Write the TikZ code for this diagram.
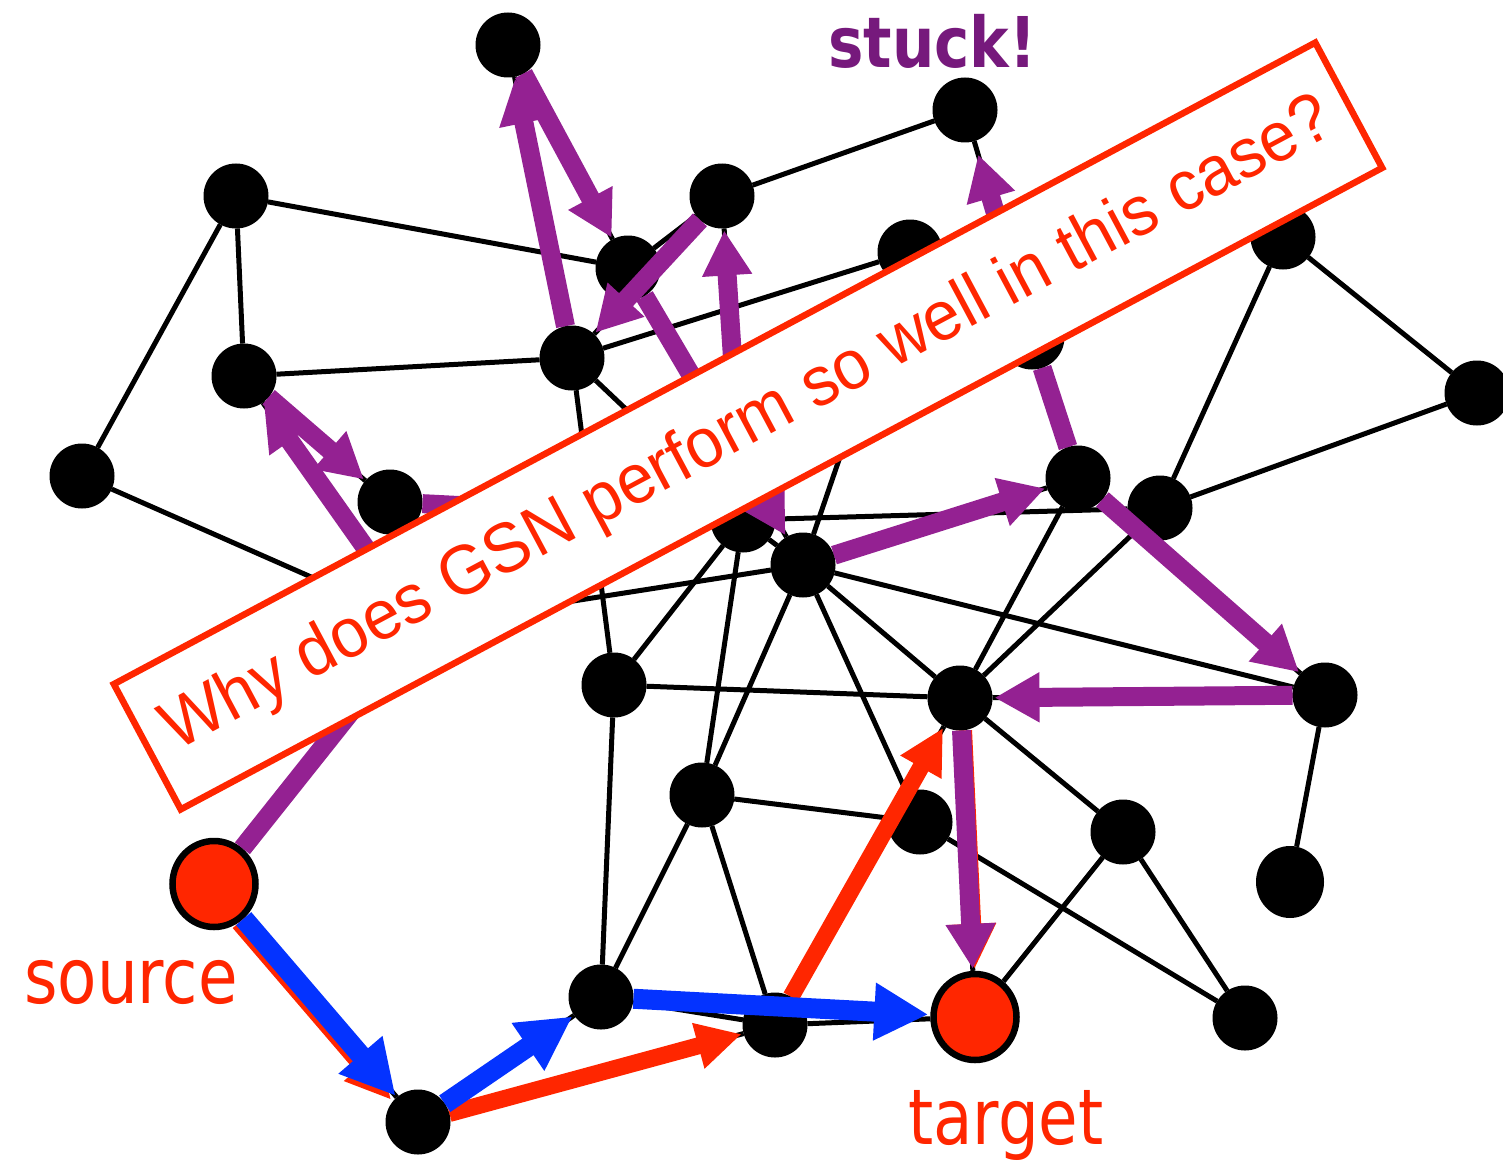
\documentclass[tikz,border=0pt]{standalone}
\usepackage{fontspec}
\setmainfont{Liberation Sans}
\newfontfamily\dvs{DejaVu Sans}
\usetikzlibrary{shapes.geometric,arrows.meta}
\definecolor{gsnred}{HTML}{FF2600}
\definecolor{gsnblue}{HTML}{0433FF}
\definecolor{gsnpurple}{HTML}{942192}
\definecolor{stuckpurple}{HTML}{76197C}
\pgfdeclarelayer{bg}
\pgfsetlayers{bg,main}
\begin{document}
\begin{tikzpicture}[x=1pt,y=-1pt,
  bn/.style={ellipse,fill=black,minimum width=65pt,minimum height=65pt,inner sep=0pt,outer sep=0pt},
  rn/.style={ellipse,fill=gsnred,draw=black,line width=6.5pt,minimum width=83pt,minimum height=86pt,inner sep=0pt},
  edge/.style={line width=5pt,black},
  pline/.style={line width=19pt,gsnpurple},
  parr/.style={pline,-{Triangle[length=45pt,width=47pt]},shorten >=2pt},
  barr/.style={line width=20pt,gsnblue,-{Triangle[length=54pt,width=54pt]},shorten >=2pt},
  rarr/.style={line width=17pt,gsnred,-{Triangle[length=45pt,width=44pt]},shorten >=2pt},
  lbl/.style={anchor=base west,inner sep=0pt},
]
\useasboundingbox (0,0) rectangle (1503,1161);
% nodes
\node[bn] (n1) at (508,45) {};
\node[bn] (n2) at (965,110) {};
\node[bn] (n3) at (236,196) {};
\node[bn] (n4) at (722,196) {};
\node[bn] (n5) at (628,268) {};
\node[bn] (n6) at (910,252) {};
\node[bn] (n7) at (1283,237) {};
\node[bn] (n8) at (244,376) {};
\node[bn] (n9) at (572,358) {};
\node[bn] (n10) at (1032,337) {};
\node[bn] (n11) at (82,476) {};
\node[bn] (n12) at (390,502) {};
\node[bn] (n13) at (743,520) {};
\node[bn] (n14) at (1078,478) {};
\node[bn] (n15) at (1160,508) {};
\node[bn] (n16) at (1477,393) {};
\node[bn] (n17) at (803,565) {};
\node[bn] (n18) at (614,685) {};
\node[bn] (n19) at (960,698) {};
\node[bn] (n20) at (1325,695) {};
\node[bn] (n21) at (702,795) {};
\node[bn] (n22) at (920,822) {};
\node[bn] (n23) at (1123,832) {};
\node[bn,minimum width=68pt,minimum height=72pt] (n24) at (1290,882) {};
\node[rn] (n25) at (214,884) {};
\node[bn] (n26) at (601,997) {};
\node[bn] (n27) at (775,1025) {};
\node[rn] (n28) at (975,1017) {};
\node[bn] (n29) at (1245,1018) {};
\node[bn] (n30) at (418,1122) {};
\coordinate (h) at (420,625);
% black edges
\begin{pgfonlayer}{bg}
\foreach \a/\b in {n3/n8,n3/n11,n3/n5,n8/n9,n11/h,n9/n6,n9/n18,n9/n13,n4/n2,n4/n5,
  n1/n5,n9/n1,n4/n9,n2/n10,n7/n16,n7/n15,n16/n15,n13/n15,n17/n14,n14/n19,n15/n19,
  n17/n20,n17/n19,n17/n13,n17/n21,n17/n22,n17/n6,n17/h,n13/n18,n13/n21,n18/n19,
  n18/n26,n21/n26,n21/n27,n21/n22,n22/n29,n19/n23,n23/n29,n23/n28,n20/n24,n20/n19,
  n19/n28,n26/n27,n27/n28,n30/n26,n25/n30,n30/n27,n27/n19,n14/n20,n5/n17,n13/n4,
  n8/n12,h/n8,n25/h,n14/n10}
  \draw[edge] (\a) -- (\b);
\end{pgfonlayer}
% red path
\draw[rarr,transform canvas={xshift=-4.5pt,yshift=-3.9pt}] (n25) -- (n30);
\draw[rarr] (n30) -- (n27);
\draw[rarr] (n27) -- (n19);
\draw[rarr,transform canvas={xshift=2pt}] (n19) -- (n28);
% blue path
\draw[barr] (n25) -- (n30);
\draw[barr] (n30) -- (n26);
\draw[barr] (n26) -- (n28);
% purple path
\draw[parr] (n25) -- (h);
\draw[parr] (h) -- (n8);
\draw[parr] (n8) -- (n12);
\draw[parr] (n12) -- (n13);
\draw[parr] (n13) -- (n4);
\draw[parr] (n4) -- (n9);
\draw[parr] (n9) -- (n1);
\draw[parr] (n1) -- (n5);
\draw[parr] (n5) -- (n17);
\draw[parr] (n17) -- (n14);
\draw[pline] (n14) -- (n10);
\draw[parr,shorten >=14pt] (n10) -- (n2);
\draw[parr] (n14) -- (n20);
\draw[parr] (n20) -- (n19);
\draw[parr] (n19) -- (n28);
% question box
\node[draw=gsnred,fill=white,line width=6.5pt,rotate=28.1,minimum width=1362pt,
  minimum height=142pt,inner sep=0pt,text=gsnred,
  font=\fontsize{70}{74}\selectfont] (box) at (748,426)
  {\scalebox{0.95}[1]{Why does GSN perform so well in this case?}};
% labels
\node[lbl,text=gsnred,font=\dvs\fontsize{77}{80}\selectfont] (src) at (24,1003)
  {\scalebox{0.835}[1]{source}};
\node[lbl,text=gsnred,font=\dvs\fontsize{77}{80}\selectfont] (tgt) at (908,1144)
  {\scalebox{0.835}[1]{target}};
\node[lbl,text=stuckpurple,font=\dvs\bfseries\fontsize{70}{76}\selectfont] (stk) at (828,68)
  {\scalebox{0.85}[1]{stuck!}};
\end{tikzpicture}
\end{document}
